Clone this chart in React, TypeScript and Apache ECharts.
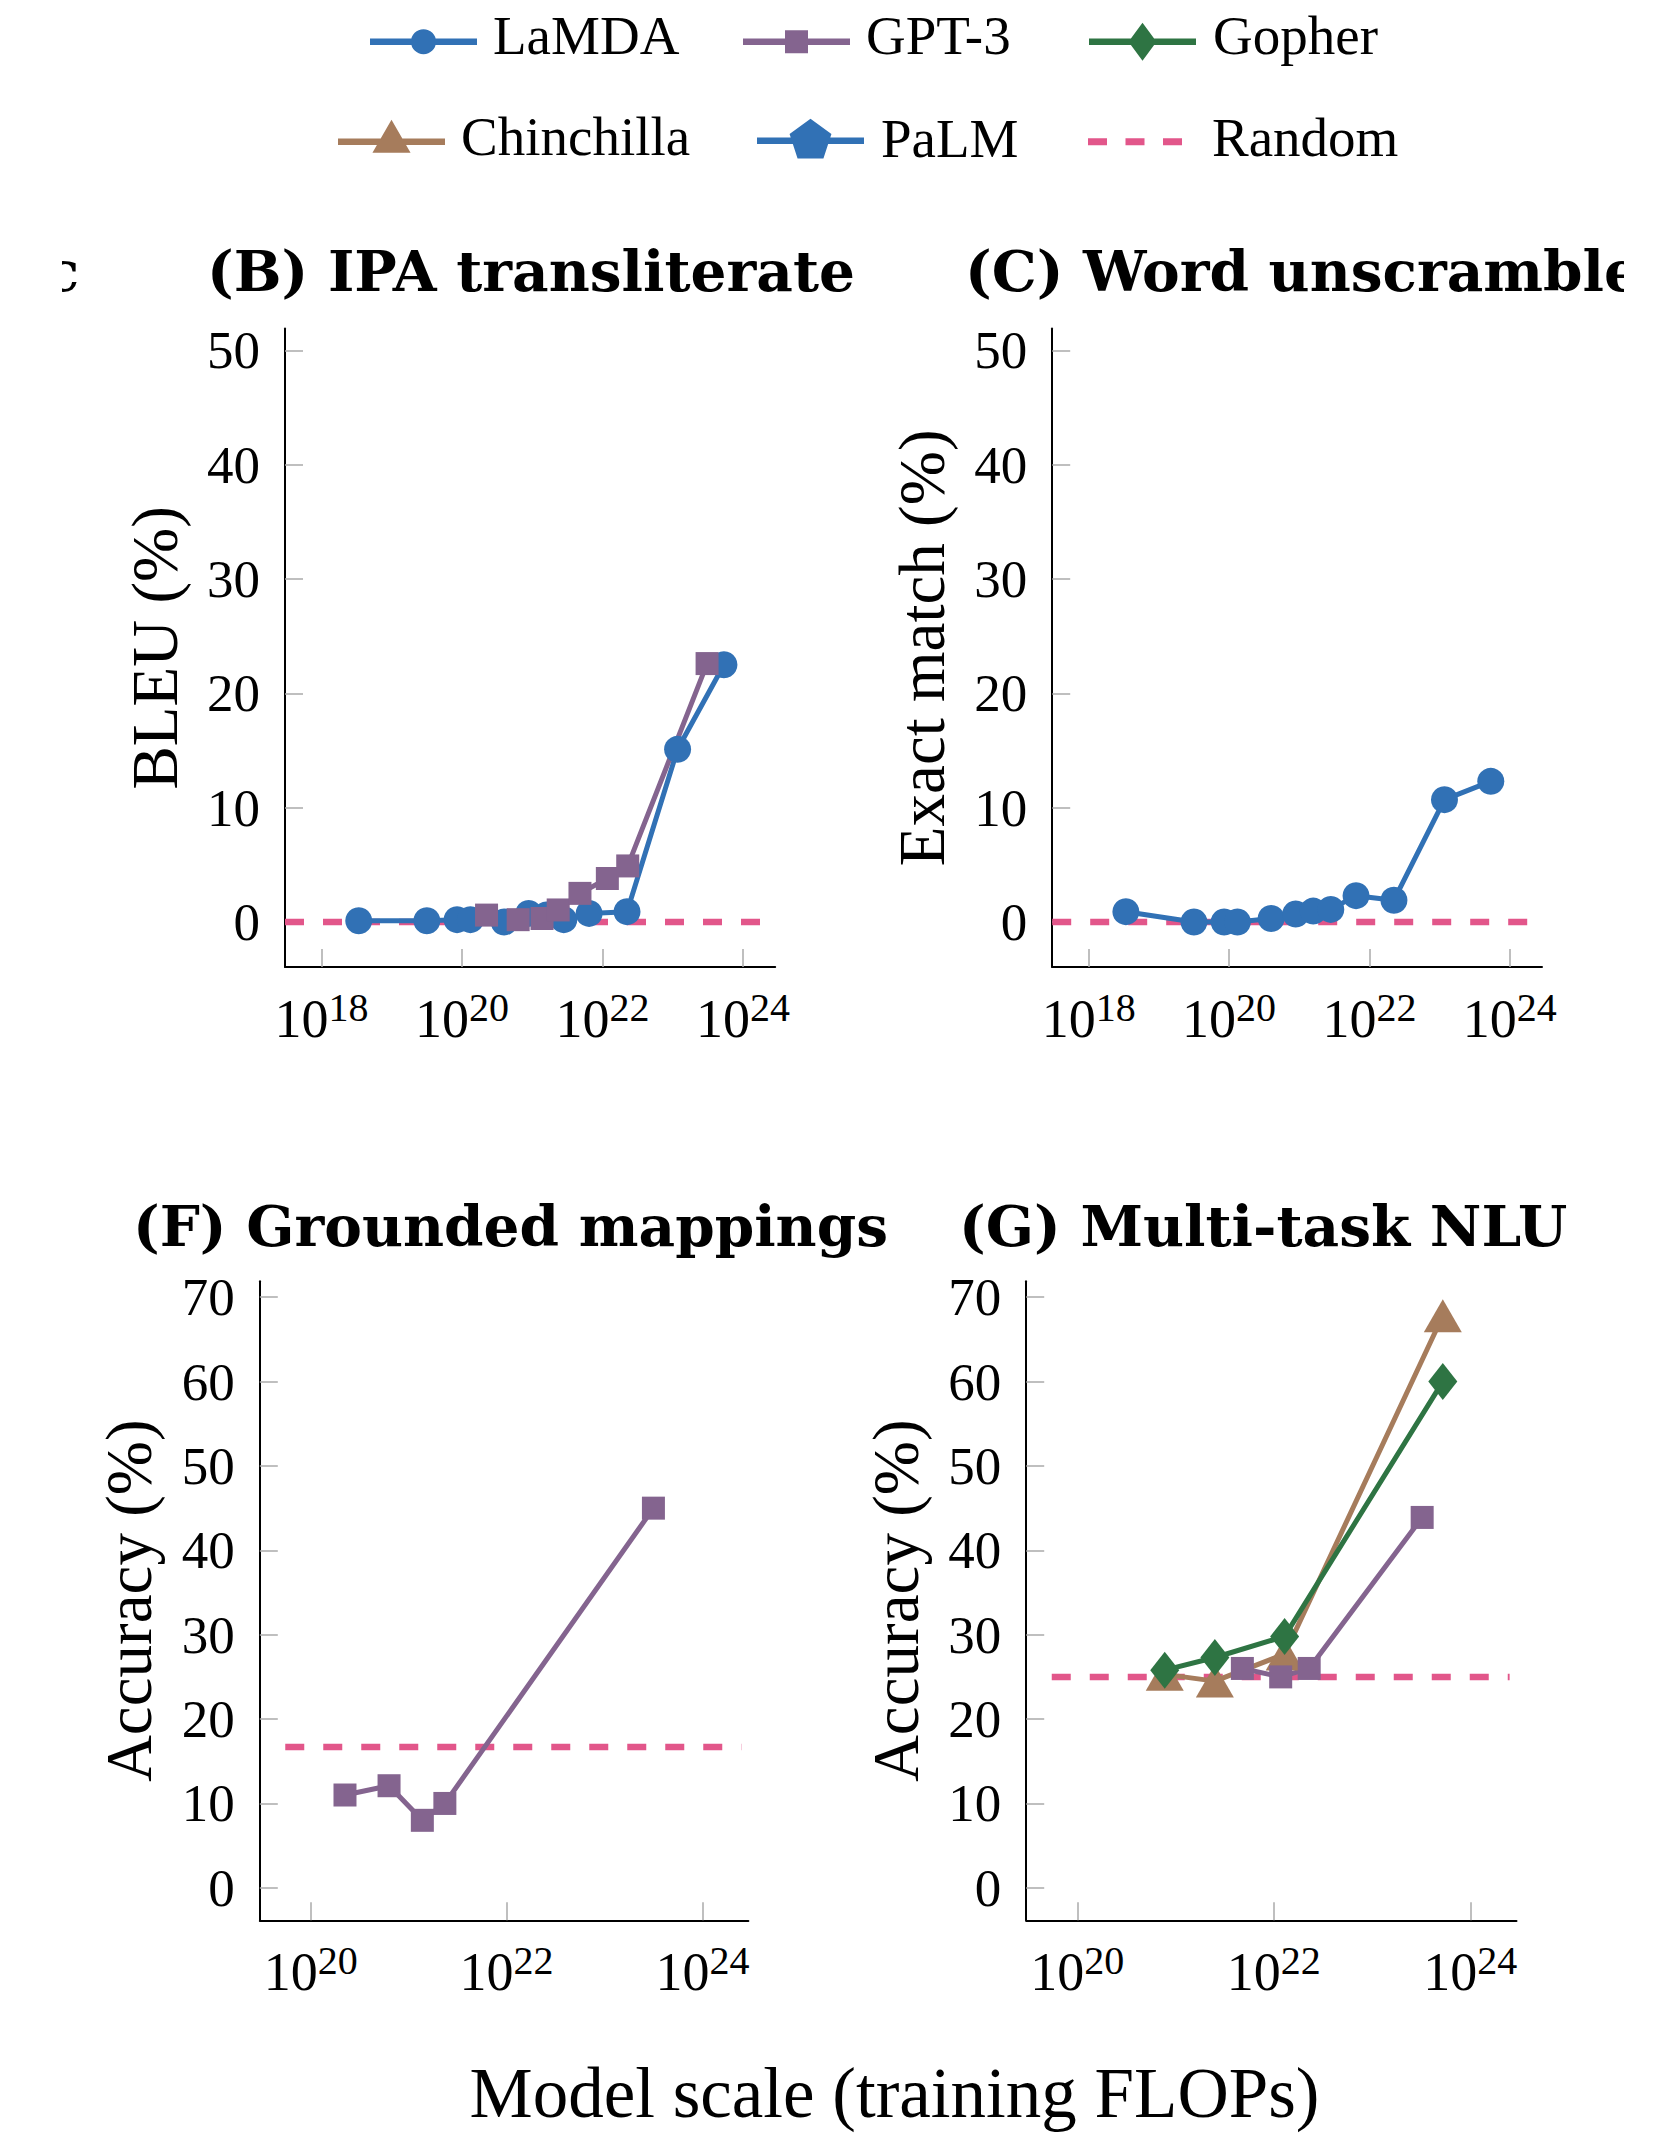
import React, { useEffect, useRef } from "react";
import * as echarts from "echarts";

// ---------------- data (x = log10 of training FLOPs) ----------------
const legendRow1 = ["LaMDA", "GPT-3", "Gopher"];
const legendRow2 = ["Chinchilla", "PaLM", "Random"];

const lamdaX = [18.53, 19.5, 19.93, 20.12, 20.6, 20.95, 21.2, 21.45, 21.81, 22.35, 23.07, 23.73];
const ipaLamda = [0.1, 0.1, 0.2, 0.2, 0.0, 0.75, 0.6, 0.2, 0.75, 0.9, 15.1, 22.5];
const unscrambleLamda = [0.9, 0.0, 0.0, 0.0, 0.3, 0.7, 0.95, 1.1, 2.3, 1.9, 10.7, 12.3];

const ipaGpt3X = [20.35, 20.8, 21.14, 21.37, 21.68, 22.07, 22.36, 23.49];
const ipaGpt3 = [0.6, 0.2, 0.3, 1.05, 2.5, 3.8, 4.9, 22.6];

const groundedGpt3X = [20.35, 20.8, 21.14, 21.37, 23.5];
const groundedGpt3 = [11.0, 12.1, 8.0, 10.0, 45.0];

const nluGpt3X = [21.68, 22.07, 22.36, 23.51];
const nluGpt3 = [26.0, 25.0, 26.0, 43.9];
const nluDeepMindX = [20.89, 21.4, 22.11, 23.72];
const nluGopher = [25.8, 27.3, 29.8, 60.0];
const nluChinchilla = [25.3, 24.5, 27.7, 67.8];

const randomIpa = 0;
const randomUnscramble = 0;
const randomGrounded = 16.7;
const randomNlu = 25;
const randomSpanTop = [17.48, 24.46];
const randomSpanBottom = [19.74, 24.4];

const xTicksTop = [18, 20, 22, 24];
const xTicksBottom = [20, 22, 24];
const yTicksTop = [0, 10, 20, 30, 40, 50];
const yTicksBottom = [0, 10, 20, 30, 40, 50, 60, 70];

const panelTitles = ["(B) IPA transliterate", "(C) Word unscramble", "(F) Grounded mappings", "(G) Multi-task NLU"];
const yNames = ["BLEU (%)", "Exact match (%)", "Accuracy (%)", "Accuracy (%)"];
const xLabel = "Model scale (training FLOPs)";

// ---------------- styles ----------------
const BLUE = "#3171b5";
const PURPLE = "#84648f";
const GREEN = "#2e7443";
const BROWN = "#a67c5c";
const PINK = "#e2568a";
const SERIF = '"Liberation Serif", "DejaVu Serif", serif';
const BOLDSERIF = '"DejaVu Serif", "Liberation Serif", serif';

const PENTAGON = "path://M0,-1 L0.951,-0.309 L0.588,0.809 L-0.588,0.809 L-0.951,-0.309 Z";

const zip = (xs: number[], ys: number[]) => xs.map((x, i) => [x, ys[i]]);
const flat = (span: number[], v: number) => span.map((x) => [x, v]);

// legend icon paths (line + marker); `d` shifts the drawn icon down relative to the text centre
const LW = 107;
const LT = 6.5;
const lineRect = (w: number) => `M0,${-LT / 2} L${w},${-LT / 2} L${w},${LT / 2} L0,${LT / 2} Z`;
const pad = (h: number, d: number) => (d > 0 ? ` M${LW / 2},${-(h / 2 + 2 * d)}` : "");
const iconCircle = (r: number, d: number) => {
  const c = LW / 2;
  return `path://${lineRect(LW)} M${c - r},0 A${r},${r} 0 1,1 ${c + r},0 A${r},${r} 0 1,1 ${c - r},0 Z${pad(2 * r, d)}`;
};
const iconSquare = (s: number, d: number) => {
  const c = LW / 2;
  return `path://${lineRect(LW)} M${c - s / 2},${-s / 2} L${c + s / 2},${-s / 2} L${c + s / 2},${s / 2} L${c - s / 2},${s / 2} Z${pad(s, d)}`;
};
const iconDiamond = (w: number, h: number, d: number) => {
  const c = LW / 2;
  return `path://${lineRect(LW)} M${c},${-h / 2} L${c + w / 2},0 L${c},${h / 2} L${c - w / 2},0 Z${pad(h, d)}`;
};
const iconTriangle = (R: number) => {
  const c = LW / 2;
  return `path://${lineRect(LW)} M${c},${-R} L${c + 0.866 * R},${R / 2} L${c - 0.866 * R},${R / 2} Z`;
};
const iconPentagon = (R: number) => {
  const c = LW / 2;
  return `path://${lineRect(LW)} M${c},${-R} L${c + 0.951 * R},${-0.309 * R} L${c + 0.588 * R},${0.809 * R} L${c - 0.588 * R},${0.809 * R} L${c - 0.951 * R},${-0.309 * R} Z`;
};
const iconDashes = (d: number) => {
  const t = 7;
  const seg = (a: number) => `M${a},${-t / 2} L${a + 19},${-t / 2} L${a + 19},${t / 2} L${a},${t / 2} Z`;
  return `path://${seg(0)} ${seg(37.5)} ${seg(75)} M47,${-(t / 2 + 2 * d)}`;
};

export default function App() {
  const ref = useRef<HTMLDivElement>(null);

  useEffect(() => {
    document.body.style.margin = "0";
    const chart = echarts.init(ref.current!, null, { renderer: "svg", width: 1672, height: 2135 });

    const grids = [
      { left: 285, top: 328.6, width: 490.2, height: 638.4 },
      { left: 1052.2, top: 328.6, width: 489.8, height: 638.4 },
      { left: 259.8, top: 1281.2, width: 488.6, height: 639.1 },
      { left: 1026.2, top: 1281.2, width: 490.3, height: 639.1 },
    ];
    const xRanges = [
      [17.48, 24.46],
      [17.48, 24.46],
      [19.48, 24.47],
      [19.48, 24.47],
    ];
    const yRanges = [
      [-3.94, 51.9],
      [-3.94, 51.9],
      [-3.85, 71.9],
      [-3.85, 71.9],
    ];
    const xTicks = [xTicksTop, xTicksTop, xTicksBottom, xTicksBottom];
    const yTicks = [yTicksTop, yTicksTop, yTicksBottom, yTicksBottom];

    const xAxis = grids.map((_, i) => ({
      type: "value",
      gridIndex: i,
      min: xRanges[i][0],
      max: xRanges[i][1],
      splitLine: { show: false },
      axisLine: { show: true, onZero: false, lineStyle: { color: "#000", width: 2 } },
      axisTick: { show: true, inside: true, length: 18, customValues: xTicks[i], lineStyle: { color: "#aaa", width: 1.5 } },
      axisLabel: {
        show: true,
        margin: 20,
        customValues: xTicks[i],
        color: "#000",
        fontFamily: SERIF,
        formatter: (v: number) => `{b|10}{s|${Math.round(v)}}`,
        rich: {
          b: { fontSize: 54, lineHeight: 64, fontFamily: SERIF, color: "#000" },
          s: { fontSize: 40, lineHeight: 40, verticalAlign: "top", fontFamily: SERIF, color: "#000" },
        },
      },
    }));

    const yAxis = grids.map((_, i) => ({
      type: "value",
      gridIndex: i,
      min: yRanges[i][0],
      max: yRanges[i][1],
      name: yNames[i],
      nameLocation: "middle",
      nameRotate: 90,
      nameGap: 98,
      nameTextStyle: { fontFamily: SERIF, fontSize: 65, color: "#000" },
      splitLine: { show: false },
      axisLine: { show: true, onZero: false, lineStyle: { color: "#000", width: 2 } },
      axisTick: { show: true, inside: true, length: 18, customValues: yTicks[i], lineStyle: { color: "#aaa", width: 1.5 } },
      axisLabel: { show: true, margin: 25, customValues: yTicks[i], color: "#000", fontFamily: SERIF, fontSize: 53 },
    }));

    const lineBase = (name: string, color: string, gi: number) => ({
      name,
      type: "line",
      xAxisIndex: gi,
      yAxisIndex: gi,
      color,
      lineStyle: { color, width: 5 },
      itemStyle: { color, borderWidth: 0 },
      emphasis: { disabled: true },
      silent: true,
    });
    const randomSeries = (gi: number, span: number[], v: number) => ({
      ...lineBase("Random", PINK, gi),
      data: flat(span, v),
      symbol: "none",
      lineStyle: { color: PINK, width: 6.5, type: [19, 19] },
    });

    const series: any[] = [
      // (B)
      randomSeries(0, randomSpanTop, randomIpa),
      { ...lineBase("LaMDA", BLUE, 0), data: zip(lamdaX, ipaLamda), symbol: "circle", symbolSize: 27 },
      { ...lineBase("GPT-3", PURPLE, 0), data: zip(ipaGpt3X, ipaGpt3), symbol: "rect", symbolSize: 23 },
      { ...lineBase("PaLM", BLUE, 0), data: [], symbol: PENTAGON, symbolSize: 40 },
      // (C)
      randomSeries(1, randomSpanTop, randomUnscramble),
      { ...lineBase("LaMDA", BLUE, 1), data: zip(lamdaX, unscrambleLamda), symbol: "circle", symbolSize: 27 },
      // (F)
      randomSeries(2, randomSpanBottom, randomGrounded),
      { ...lineBase("GPT-3", PURPLE, 2), data: zip(groundedGpt3X, groundedGpt3), symbol: "rect", symbolSize: 23 },
      // (G)
      randomSeries(3, randomSpanBottom, randomNlu),
      { ...lineBase("Chinchilla", BROWN, 3), data: zip(nluDeepMindX, nluChinchilla), symbol: "triangle", symbolSize: [38, 33] },
      { ...lineBase("GPT-3", PURPLE, 3), data: zip(nluGpt3X, nluGpt3), symbol: "rect", symbolSize: 23 },
      { ...lineBase("Gopher", GREEN, 3), data: zip(nluDeepMindX, nluGopher), symbol: "diamond", symbolSize: [29, 37] },
    ];

    const legendText = (p: number) => ({
      fontFamily: SERIF,
      fontSize: 55,
      lineHeight: 60,
      color: "#000",
      padding: [0, 0, 0, p],
    });
    const mkLegend = (name: string, icon: string, color: string, left: number, top: number, w: number, h: number, p: number) => ({
      show: true,
      left,
      top,
      padding: 0,
      orient: "horizontal",
      selectedMode: false,
      itemWidth: w,
      itemHeight: h,
      textStyle: legendText(p),
      data: [{ name, icon, itemStyle: { color, borderWidth: 0 } }],
    });

    const R_TRI = 22;
    const R_PENT = 22;
    const D1 = 6.5; // row-1 icon sits a little below the text centre
    const DR = 4;
    const legend = [
      mkLegend(legendRow1[0], iconCircle(12.5, D1), BLUE, 370, 5.2, LW, 25 + 2 * D1, 11),
      mkLegend(legendRow1[1], iconSquare(23, D1), PURPLE, 743, 5.2, LW, 23 + 2 * D1, 11),
      mkLegend(legendRow1[2], iconDiamond(28, 38, D1), GREEN, 1089, 5.2, LW, 38 + 2 * D1, 12),
      mkLegend(legendRow2[0], iconTriangle(R_TRI), BROWN, 338, 106.2, LW, 1.5 * R_TRI, 11),
      mkLegend(legendRow2[1], iconPentagon(R_PENT), BLUE, 757, 108.7, LW, 1.809 * R_PENT, 12),
      mkLegend(legendRow2[2], iconDashes(DR), PINK, 1088, 107.7, 94, 7 + 2 * DR, 25),
    ];

    const titleBase = (text: string, left: number, top: number) => ({
      text,
      left,
      top,
      padding: 0,
      textStyle: { fontFamily: BOLDSERIF, fontWeight: "bold", fontSize: 56.5, color: "#000" },
    });
    const title = [
      titleBase(panelTitles[0], 207, 242),
      titleBase(panelTitles[1], 965, 242),
      titleBase(panelTitles[2], 133, 1197),
      titleBase(panelTitles[3], 959, 1197),
    ];

    const graphic = [
      {
        type: "text",
        x: 894.5,
        y: 2093,
        style: { text: xLabel, fontFamily: SERIF, fontSize: 71, fill: "#000", align: "center", verticalAlign: "middle" },
      },
      {
        type: "text",
        x: 79,
        y: 271,
        style: { text: "c", fontFamily: BOLDSERIF, fontWeight: "bold", fontSize: 56, fill: "#000", align: "right", verticalAlign: "middle" },
      },
      { type: "rect", z: 100, shape: { x: 0, y: 230, width: 62, height: 80 }, style: { fill: "#fff" } },
      { type: "rect", z: 100, shape: { x: 1624, y: 225, width: 48, height: 100 }, style: { fill: "#fff" } },
    ];

    chart.setOption({
      animation: false,
      backgroundColor: "#fff",
      title,
      legend,
      grid: grids.map((g) => ({ ...g, containLabel: false })),
      xAxis,
      yAxis,
      series,
      graphic,
    } as any);

    return () => chart.dispose();
  }, []);

  return <div ref={ref} style={{ width: 1672, height: 2135, position: "absolute", left: 0, top: 0 }} />;
}
